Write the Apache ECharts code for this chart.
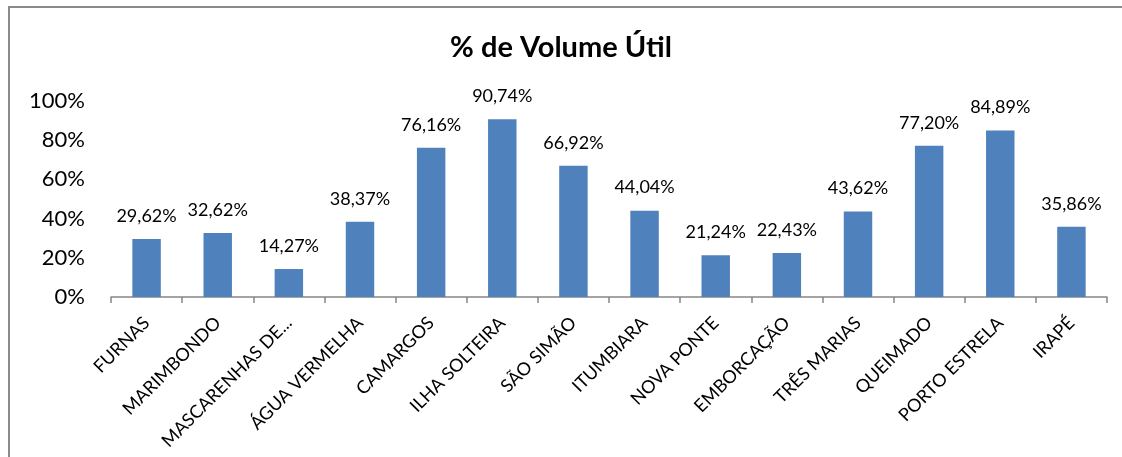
<!DOCTYPE html>
<html>
<head>
<meta charset="utf-8">
<script src="https://cdn.jsdelivr.net/npm/echarts@6/dist/echarts.min.js"></script>
<style>
  html, body { margin: 0; padding: 0; background: #fff; }
  #chart { width: 1122px; height: 457px; }
</style>
</head>
<body>
<div id="chart"></div>
<script>
// reservatórios
var categorias = ['FURNAS', 'MARIMBONDO', 'MASCARENHAS DE...', 'ÁGUA VERMELHA', 'CAMARGOS',
    'ILHA SOLTEIRA', 'SÃO SIMÃO', 'ITUMBIARA', 'NOVA PONTE', 'EMBORCAÇÃO',
    'TRÊS MARIAS', 'QUEIMADO', 'PORTO ESTRELA', 'IRAPÉ'];
// % volume útil
var volumeUtil = [29.62, 32.62, 14.27, 38.37, 76.16, 90.74, 66.92, 44.04, 21.24, 22.43,
    43.62, 77.20, 84.89, 35.86];
var yTicks = [0, 20, 40, 60, 80, 100];

var fonte = 'Lato, "Open Sans", sans-serif';
var chart = echarts.init(document.getElementById('chart'));
var option = {
    animation: false,
    title: {
        text: '% de Volume Útil',
        left: 'center',
        top: 28,
        textStyle: { fontFamily: fonte, fontSize: 29, fontWeight: 'bold', color: '#000' }
    },
    graphic: [{
        type: 'rect',
        shape: { x: 9, y: 7, width: 1200, height: 600 },
        style: { fill: 'none', stroke: '#8a8a8a', lineWidth: 2 },
        silent: true
    }],
    grid: { left: 111, right: 15, top: 101, bottom: 160, containLabel: false, outerBoundsMode: 'none' },
    xAxis: {
        type: 'category',
        data: categorias,
        axisLine: { show: true, lineStyle: { color: '#878787', width: 1.5 } },
        axisTick: { show: true, length: 6, lineStyle: { color: '#878787', width: 1.5 } },
        axisLabel: {
            interval: 0,
            rotate: 45,
            margin: 23,
            color: '#000',
            fontFamily: fonte,
            fontSize: 18
        }
    },
    yAxis: {
        type: 'value',
        min: yTicks[0],
        max: yTicks[yTicks.length - 1],
        interval: 20,
        axisLine: { show: false },
        axisTick: { show: false },
        splitLine: { show: false },
        axisLabel: {
            margin: 26,
            color: '#000',
            fontFamily: fonte,
            fontSize: 22,
            formatter: function (v) { return v + '%'; }
        }
    },
    series: [{
        type: 'bar',
        data: volumeUtil,
        barWidth: '40%',
        itemStyle: { color: '#4F81BD' },
        label: {
            show: true,
            position: 'top',
            distance: 14,
            color: '#000',
            fontFamily: fonte,
            fontSize: 18,
            formatter: function (p) { return p.value.toFixed(2).replace('.', ',') + '%'; }
        }
    }]
};
chart.setOption(option);
</script>
</body>
</html>
